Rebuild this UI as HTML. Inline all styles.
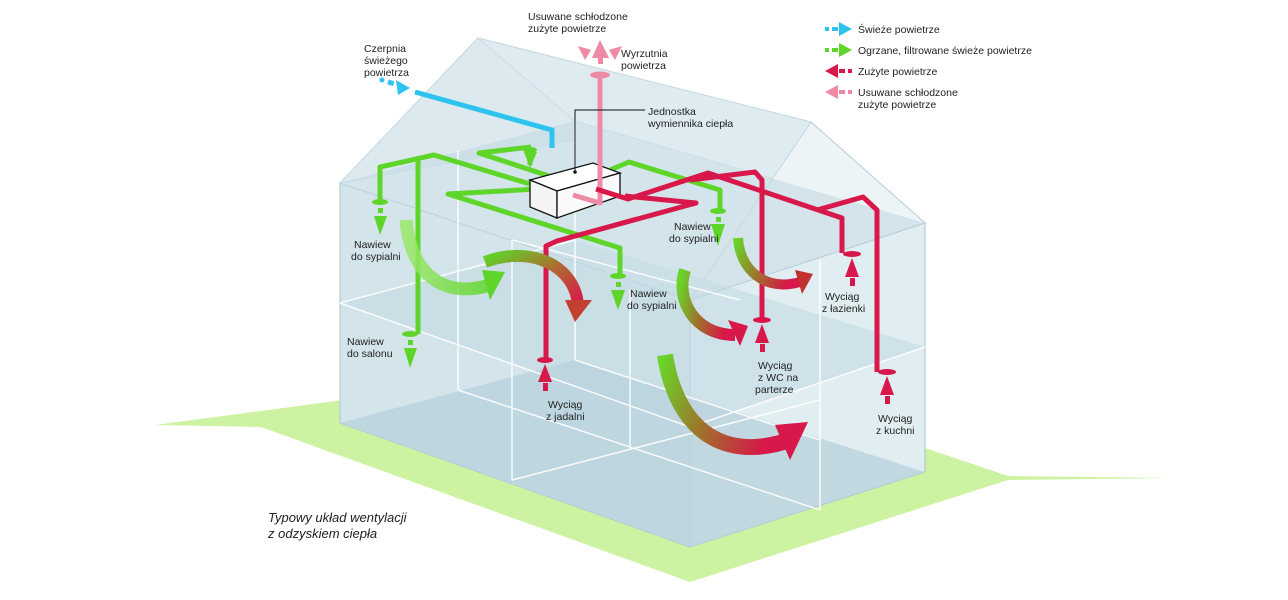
<!DOCTYPE html>
<html><head><meta charset="utf-8"><style>
html,body{margin:0;padding:0;background:#fff;width:1288px;height:600px;overflow:hidden}
text{font-family:"Liberation Sans",sans-serif;font-size:10.5px;fill:#222}
</style></head><body>
<svg width="1288" height="600" viewBox="0 0 1288 600" xmlns="http://www.w3.org/2000/svg">
<defs>
<linearGradient id="g1" x1="0" y1="0" x2="1" y2="0"><stop offset="0" stop-color="#9be86a"/><stop offset="1" stop-color="#5fd52a"/></linearGradient>
<linearGradient id="g2" x1="0" y1="0" x2="1" y2="1"><stop offset="0" stop-color="#5fd52a"/><stop offset="0.5" stop-color="#b06a30"/><stop offset="1" stop-color="#d8174a"/></linearGradient>
<linearGradient id="g3" x1="0" y1="0" x2="1" y2="0.3"><stop offset="0" stop-color="#6ad42a"/><stop offset="0.5" stop-color="#a0702c"/><stop offset="1" stop-color="#d8174a"/></linearGradient>
</defs>
<polygon points="155,425 343,400 925,448 1008,476 1170,478 1008,480 690,582 261,427" fill="#cdf3a2"/>
<polygon points="340,183 478,38 575,121 575,140" fill="#dbe9ee" stroke="#b5d0da"/>
<polygon points="478,38 811,122 925,223 575,121" fill="#e2eef2" stroke="#b5d0da"/>
<polygon points="811,122 925,223 690,300" fill="#edf4f6" stroke="#b5d0da"/>
<polygon points="340,183 690,300 690,547 340,423" fill="#d3e5eb" stroke="#a9c6d2"/>
<polygon points="690,300 925,223 925,472 690,547" fill="#e0edf1" stroke="#a9c6d2"/>
<polygon points="340,183 478,38 811,122 690,300" fill="#dce9ee" opacity="0.6"/>
<polygon points="340,303 575,240 925,347 690,427" fill="#c2d9e1" opacity="0.55"/>
<polygon points="340,423 575,360 925,472 690,547" fill="#b9d2dc" opacity="0.8"/>
<polygon points="340,183 575,121 925,223 690,300" fill="#c6dbe3" opacity="0.65"/>
<g stroke="#fff" stroke-width="1.5" fill="none" opacity="0.9">
<line x1="340" y1="303" x2="690" y2="427"/><line x1="690" y1="427" x2="925" y2="347"/>
<line x1="340" y1="303" x2="575" y2="240"/>
<line x1="458" y1="150" x2="458" y2="390"/><line x1="512" y1="240" x2="512" y2="480"/>
<line x1="630" y1="290" x2="630" y2="450"/><line x1="820" y1="260" x2="820" y2="510"/>
<line x1="512" y1="240" x2="740" y2="300"/><line x1="512" y1="480" x2="820" y2="400"/>
<line x1="458" y1="390" x2="820" y2="510"/><line x1="575" y1="360" x2="820" y2="440"/>
<line x1="575" y1="121" x2="575" y2="360"/>
</g>
<polyline points="415,92 552,130 552,148" fill="none" stroke="#2ec3ef" stroke-width="5" stroke-linejoin="round"/>
<circle cx="382" cy="80" r="2.5" fill="#2ec3ef"/><rect x="388" y="80" width="6" height="5" fill="#2ec3ef" transform="rotate(18 390 82)"/>
<polygon points="396,80 410,88 398,95" fill="#2ec3ef"/>
<g fill="none" stroke="#5fd52a" stroke-width="5" stroke-linejoin="round">
<polyline points="380,202 380,167 434,155 530,184"/>
<polyline points="418,160 418,334"/>
<polyline points="531,147 479,153 555,178"/>
<polyline points="530,147 530,165"/>
<polyline points="555,188 448,194 620,248 620,276"/>
<polyline points="610,170 629,162 720,190 720,210"/>
</g>
<g fill="#5fd52a">
<ellipse cx="380" cy="202" rx="8" ry="3"/><rect x="378" y="208" width="5" height="5"/><polygon points="374,216 387,216 380,235"/>
<ellipse cx="410" cy="334" rx="8" ry="3"/><rect x="408" y="340" width="5" height="5"/><polygon points="404,348 417,348 410,368"/>
<ellipse cx="530" cy="150" rx="7" ry="3"/><polygon points="524,152 537,152 530,168"/>
<ellipse cx="618" cy="276" rx="8" ry="3"/><rect x="616" y="282" width="5" height="5"/><polygon points="611,290 625,290 618,310"/>
<ellipse cx="718" cy="211" rx="8" ry="3"/><rect x="716" y="217" width="5" height="5"/><polygon points="711,224 725,224 718,246"/>
</g>
<polygon points="530,180 593,163 620,173 557,191" fill="#fff" stroke="#111" stroke-width="1.3"/>
<polygon points="530,180 557,191 557,218 530,207" fill="#f4f4f4" stroke="#111" stroke-width="1.3"/>
<polygon points="557,191 620,173 620,196 557,218" fill="#fafafa" stroke="#111" stroke-width="1.3"/>
<polyline points="600,75 600,203 573,195" fill="none" stroke="#ee8aa6" stroke-width="5" stroke-linejoin="round"/>
<ellipse cx="600" cy="75" rx="10" ry="3.5" fill="#ee8aa6"/>
<g fill="#ee8aa6"><rect x="598" y="56" width="5" height="8"/><polygon points="592,58 609,58 600,40"/>
<polygon points="585,60 578,46 591,50"/><polygon points="615,60 622,46 609,50"/></g>
<polyline points="575,172 575,110 645,110" fill="none" stroke="#111" stroke-width="1"/>
<circle cx="575" cy="172" r="1.8" fill="#111"/>
<g fill="none" stroke="#d8174a" stroke-width="5" stroke-linejoin="round">
<polyline points="596,189 628,199 708,173 842,218 842,253"/>
<polyline points="690,180 755,172 762,180 762,320"/>
<polyline points="817,210 863,197 877,210 877,372"/>
<polyline points="625,196 696,203 557,241 546,246 546,360"/>
</g>
<g fill="#d8174a">
<ellipse cx="545" cy="360" rx="8" ry="3"/><polygon points="538,382 552,382 545,364"/><rect x="543" y="383" width="5" height="8"/>
<ellipse cx="762" cy="320" rx="9" ry="3"/><polygon points="755,343 769,343 762,324"/><rect x="760" y="344" width="5" height="8"/>
<ellipse cx="852" cy="254" rx="9" ry="3"/><polygon points="845,277 859,277 852,258"/><rect x="850" y="278" width="5" height="8"/>
<ellipse cx="887" cy="372" rx="9" ry="3"/><polygon points="880,395 894,395 887,376"/><rect x="885" y="396" width="5" height="8"/>
</g>
<path d="M406,220 C410,270 440,300 490,285" fill="none" stroke="url(#g1)" stroke-width="13" opacity="0.85"/>
<polygon points="482,270 505,272 490,300" fill="#5fd52a"/>
<path d="M485,262 C530,245 575,265 578,305" fill="none" stroke="url(#g2)" stroke-width="12"/>
<polygon points="565,300 592,300 575,322" fill="#c2402f"/>
<path d="M685,270 C675,300 695,335 735,335" fill="none" stroke="url(#g3)" stroke-width="12"/>
<polygon points="728,320 740,346 748,326" fill="#d8174a"/>
<path d="M738,238 C740,270 765,292 800,282" fill="none" stroke="url(#g3)" stroke-width="10"/>
<polygon points="795,270 813,274 802,294" fill="#c2302f"/>
<path d="M665,355 C675,420 715,465 790,440" fill="none" stroke="url(#g3)" stroke-width="16"/>
<polygon points="775,425 808,422 790,460" fill="#d8174a"/>
<g>
<rect x="825" y="27" width="4" height="4" fill="#2ec3ef"/><rect x="832" y="27" width="6" height="4" fill="#2ec3ef"/><polygon points="839,22 852,29 839,36" fill="#2ec3ef"/>
<rect x="825" y="48" width="4" height="4" fill="#5fd52a"/><rect x="832" y="48" width="6" height="4" fill="#5fd52a"/><polygon points="839,43 852,50 839,57" fill="#5fd52a"/>
<polygon points="838,64 825,71 838,78" fill="#d8174a"/><rect x="839" y="69" width="6" height="4" fill="#d8174a"/><rect x="848" y="69" width="4" height="4" fill="#d8174a"/>
<polygon points="838,85 825,92 838,99" fill="#ee8aa6"/><rect x="839" y="90" width="6" height="4" fill="#ee8aa6"/><rect x="848" y="90" width="4" height="4" fill="#ee8aa6"/>
<text x="858" y="33">Świeże powietrze</text>
<text x="858" y="54">Ogrzane, filtrowane świeże powietrze</text>
<text x="858" y="75">Zużyte powietrze</text>
<text x="858" y="96">Usuwane schłodzone</text>
<text x="858" y="108">zużyte powietrze</text>
</g>
<text x="528" y="20">Usuwane schłodzone</text><text x="528" y="32">zużyte powietrze</text>
<text x="621" y="57">Wyrzutnia</text><text x="621" y="69">powietrza</text>
<text x="648" y="115">Jednostka</text><text x="648" y="127">wymiennika ciepła</text>
<text x="364" y="52">Czerpnia</text><text x="364" y="64">świeżego</text><text x="364" y="76">powietrza</text>
<text x="354" y="248">Nawiew</text><text x="351" y="260">do sypialni</text>
<text x="347" y="345">Nawiew</text><text x="347" y="357">do salonu</text>
<text x="630" y="297">Nawiew</text><text x="627" y="309">do sypialni</text>
<text x="674" y="230">Nawiew</text><text x="669" y="242">do sypialni</text>
<text x="548" y="408">Wyciąg</text><text x="546" y="420">z jadalni</text>
<text x="758" y="369">Wyciąg</text><text x="758" y="381">z WC na</text><text x="755" y="393">parterze</text>
<text x="825" y="300">Wyciąg</text><text x="822" y="312">z łazienki</text>
<text x="878" y="422">Wyciąg</text><text x="876" y="434">z kuchni</text>
<text x="268" y="522" style="font-size:13px;font-style:italic">Typowy układ wentylacji</text>
<text x="268" y="538" style="font-size:13px;font-style:italic">z odzyskiem ciepła</text>
</svg>
</body></html>
